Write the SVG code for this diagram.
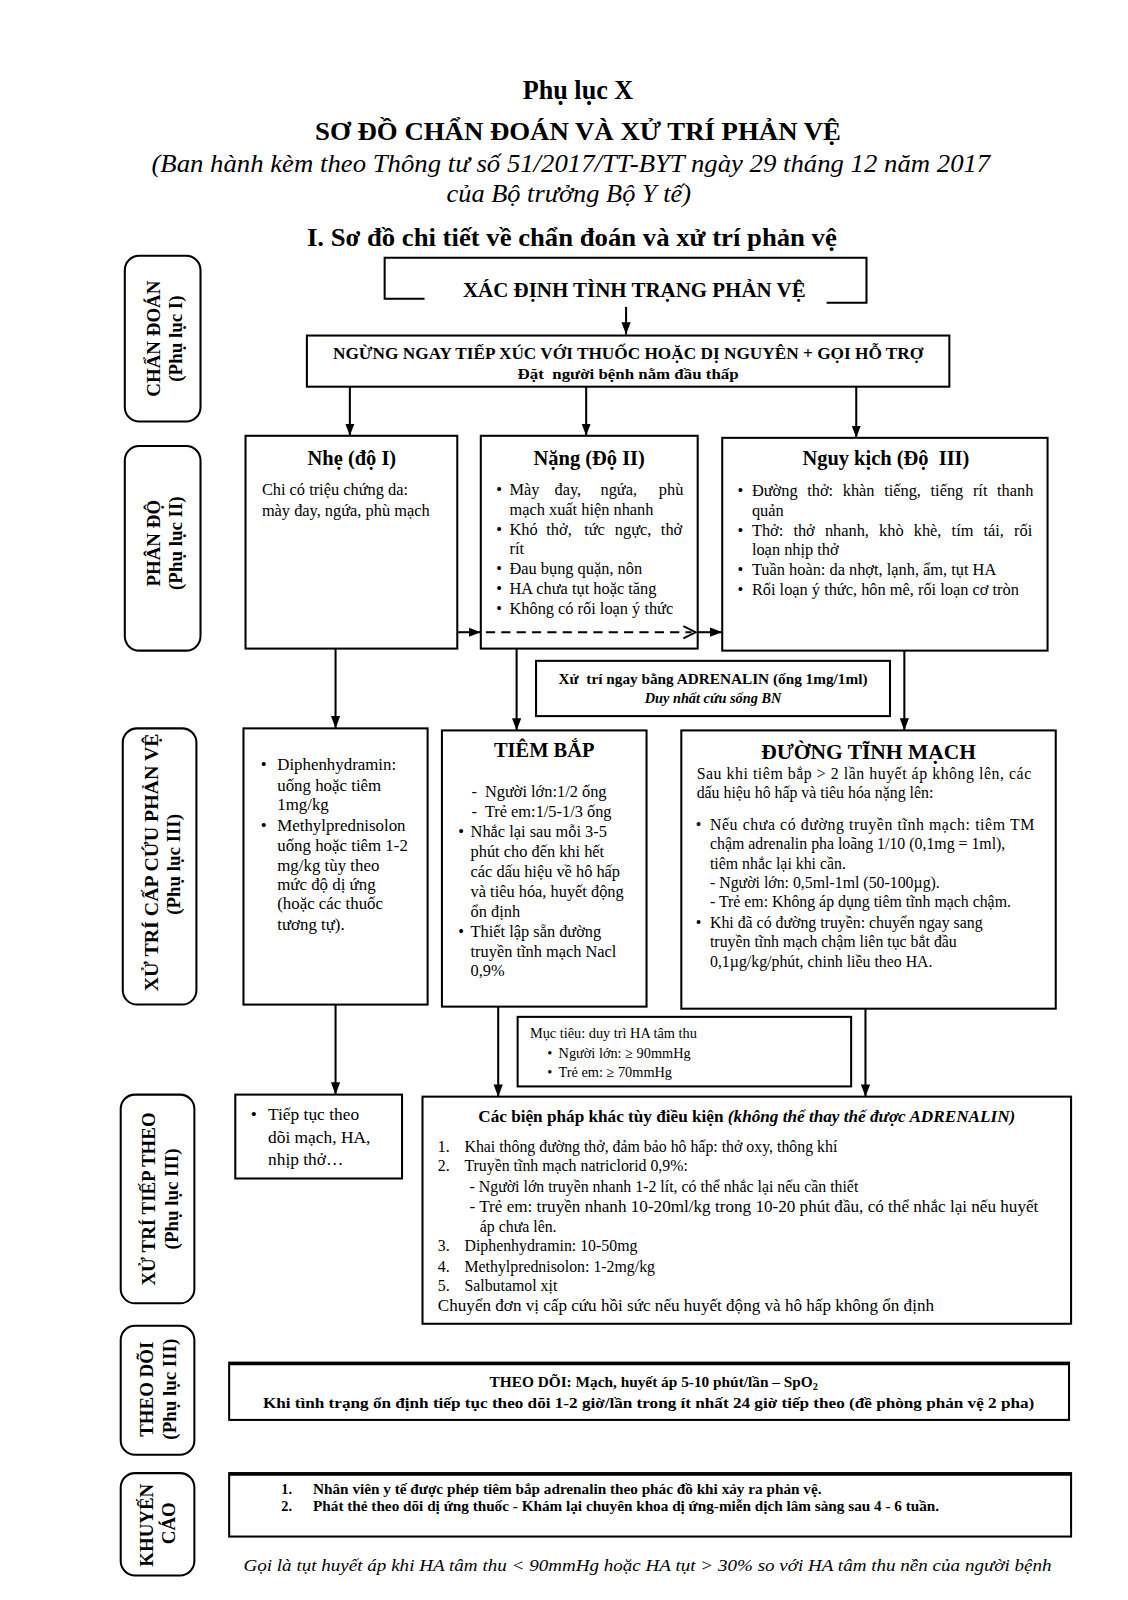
<svg xmlns="http://www.w3.org/2000/svg" width="1128" height="1600" viewBox="0 0 1128 1600">
<defs>
<style>
.t{font-family:"Liberation Serif","Times New Roman",serif;fill:#000}
.b{font-weight:bold}
.i{font-style:italic}
.c{text-anchor:middle}
.box{fill:none;stroke:#000;stroke-width:2}
.side{fill:none;stroke:#000;stroke-width:2}
.ln{fill:none;stroke:#000;stroke-width:2}
.sl{font-size:18.5px;font-weight:bold}
.f16{font-size:16px}
</style>
<marker id="arr" viewBox="0 0 12 10" refX="12" refY="5" markerWidth="12" markerHeight="10" markerUnits="userSpaceOnUse" orient="auto">
<path d="M0,0.5 L12,5 L0,9.5 z" fill="#000"/>
</marker>
</defs>
<rect width="1128" height="1600" fill="#fff"/>
<g transform="scale(1.023)">

<g id="title">
<text class="t b c" x="565" y="97" font-size="26" textLength="108" lengthAdjust="spacingAndGlyphs">Phụ lục X</text>
<text class="t b c" x="565" y="137" font-size="25" textLength="514" lengthAdjust="spacingAndGlyphs">SƠ ĐỒ CHẨN ĐOÁN VÀ XỬ TRÍ PHẢN VỆ</text>
<text class="t i c" x="558" y="168" font-size="25" textLength="820" lengthAdjust="spacingAndGlyphs">(Ban hành kèm theo Thông tư số 51/2017/TT-BYT ngày 29 tháng 12 năm 2017</text>
<text class="t i c" x="556" y="197" font-size="25" textLength="239" lengthAdjust="spacingAndGlyphs">của Bộ trưởng Bộ Y tế)</text>
<text class="t b c" x="559" y="240" font-size="24" textLength="518" lengthAdjust="spacingAndGlyphs">I. Sơ đồ chi tiết về chẩn đoán và xử trí phản vệ</text>
</g>

<g id="side-chandoan">
<rect class="side" x="122" y="250" width="74" height="162" rx="14"/>
<text class="t sl c" transform="translate(156,331) rotate(-90)">CHẨN ĐOÁN</text>
<text class="t sl c" transform="translate(178,331) rotate(-90)">(Phụ lục I)</text>
</g>
<g id="side-phando">
<rect class="side" x="122" y="436" width="74" height="200" rx="14"/>
<text class="t sl c" transform="translate(156,531) rotate(-90)">PHÂN ĐỘ</text>
<text class="t sl c" transform="translate(178,531) rotate(-90)">(Phụ lục II)</text>
</g>
<g id="side-capcuu">
<rect class="side" x="120" y="712" width="72" height="270" rx="14"/>
<text class="t sl c" transform="translate(154,843) rotate(-90)" textLength="252" lengthAdjust="spacingAndGlyphs">XỬ TRÍ CẤP CỨU PHẢN VỆ</text>
<text class="t sl c" transform="translate(176,845) rotate(-90)">(Phụ lục III)</text>
</g>
<g id="side-tieptheo">
<rect class="side" x="118" y="1070" width="72" height="204" rx="14"/>
<text class="t sl c" transform="translate(152,1172) rotate(-90)">XỬ TRÍ TIẾP THEO</text>
<text class="t sl c" transform="translate(174,1172) rotate(-90)">(Phụ lục III)</text>
</g>
<g id="side-theodoi">
<rect class="side" x="118" y="1296" width="72" height="126" rx="14"/>
<text class="t sl c" transform="translate(150,1358) rotate(-90)">THEO DÕI</text>
<text class="t sl c" transform="translate(172,1358) rotate(-90)">(Phụ lục III)</text>
</g>
<g id="side-khuyencao">
<rect class="side" x="118" y="1440" width="72" height="100" rx="14"/>
<text class="t sl c" transform="translate(150,1491) rotate(-90)">KHUYẾN</text>
<text class="t sl c" transform="translate(171,1489) rotate(-90)">CÁO</text>
</g>

<g id="connectors">
<line class="ln" x1="612" y1="300" x2="612" y2="327" marker-end="url(#arr)"/>
<line class="ln" x1="342" y1="378" x2="342" y2="426" marker-end="url(#arr)"/>
<line class="ln" x1="573" y1="378" x2="573" y2="426" marker-end="url(#arr)"/>
<line class="ln" x1="837" y1="378" x2="837" y2="428" marker-end="url(#arr)"/>
<line class="ln" x1="447" y1="618" x2="470" y2="618" marker-end="url(#arr)"/>
<line fill="none" stroke="#000" stroke-width="1.8" stroke-dasharray="9,6" x1="475" y1="618" x2="676" y2="618"/>
<path fill="none" stroke="#000" stroke-width="1.8" d="M668,612 L680,618 L668,624"/>
<line class="ln" x1="682" y1="618" x2="706" y2="618" marker-end="url(#arr)"/>
<line class="ln" x1="328" y1="634" x2="328" y2="712" marker-end="url(#arr)"/>
<line class="ln" x1="505" y1="634" x2="505" y2="714" marker-end="url(#arr)"/>
<line class="ln" x1="884" y1="636" x2="884" y2="714" marker-end="url(#arr)"/>
<line class="ln" x1="328" y1="982" x2="328" y2="1070" marker-end="url(#arr)"/>
<line class="ln" x1="487" y1="984" x2="487" y2="1072" marker-end="url(#arr)"/>
<line class="ln" x1="846" y1="986" x2="846" y2="1072" marker-end="url(#arr)"/>
</g>

<g id="xacdinh">
<path class="ln" d="M415,292 H376 V252 H847 V296 H808"/>
<text class="t b c" x="620" y="290" font-size="19.5" textLength="335" lengthAdjust="spacingAndGlyphs">XÁC ĐỊNH TÌNH TRẠNG PHẢN VỆ</text>
</g>

<g id="ngungngay">
<rect class="box" x="300" y="328" width="628" height="50"/>
<text class="t b c" x="614" y="351" font-size="16" textLength="577" lengthAdjust="spacingAndGlyphs">NGỪNG NGAY TIẾP XÚC VỚI THUỐC HOẶC DỊ NGUYÊN + GỌI HỖ TRỢ</text>
<text class="t b c" x="614" y="370" font-size="14" textLength="216" lengthAdjust="spacingAndGlyphs" xml:space="preserve">Đặt  người bệnh nằm đầu thấp</text>
</g>

<g id="nhe">
<rect class="box" x="240" y="426" width="207" height="208"/>
<text class="t b c" x="344" y="455" font-size="20">Nhẹ (độ I)</text>
<text class="t f16" x="256" y="484">Chi có triệu chứng da:</text>
<text class="t f16" x="256" y="504">mày đay, ngứa, phù mạch</text>
</g>

<g id="nang">
<rect class="box" x="470" y="426" width="212" height="208"/>
<text class="t b c" x="576" y="455" font-size="20">Nặng (Độ II)</text>
<g class="t f16">
<text x="485" y="484">•</text>
<text y="484"><tspan x="498">Mày</tspan><tspan x="542">đay,</tspan><tspan x="587">ngứa,</tspan><tspan x="644">phù</tspan></text>
<text x="498" y="503">mạch xuất hiện nhanh</text>
<text x="485" y="523">•</text>
<text y="523"><tspan x="498">Khó</tspan><tspan x="534">thở,</tspan><tspan x="571">tức</tspan><tspan x="601">ngực,</tspan><tspan x="646">thở</tspan></text>
<text x="498" y="542">rít</text>
<text x="485" y="561">•</text><text x="498" y="561">Đau bụng quặn, nôn</text>
<text x="485" y="581">•</text><text x="498" y="581">HA chưa tụt hoặc tăng</text>
<text x="485" y="600">•</text><text x="498" y="600">Không có rối loạn ý thức</text>
</g>
</g>

<g id="nguykich">
<rect class="box" x="706" y="428" width="318" height="208"/>
<text class="t b c" x="866" y="455" font-size="20" xml:space="preserve">Nguy kịch (Độ  III)</text>
<g class="t f16">
<text x="721" y="485">•</text><text x="735" y="485" word-spacing="5.4">Đường thở: khàn tiếng, tiếng rít thanh</text>
<text x="735" y="504">quản</text>
<text x="721" y="524">•</text><text x="735" y="524" word-spacing="5.9">Thở: thở nhanh, khò khè, tím tái, rối</text>
<text x="735" y="543">loạn nhịp thở</text>
<text x="721" y="562">•</text><text x="735" y="562">Tuần hoàn: da nhợt, lạnh, ẩm, tụt HA</text>
<text x="721" y="582">•</text><text x="735" y="582">Rối loạn ý thức, hôn mê, rối loạn cơ tròn</text>
</g>
</g>

<g id="adrenalin">
<rect class="box" x="524" y="646" width="346" height="54"/>
<text class="t b c" x="697" y="669" font-size="14" textLength="302" lengthAdjust="spacingAndGlyphs" xml:space="preserve">Xử  trí ngay bằng ADRENALIN (ống 1mg/1ml)</text>
<text class="t b i c" x="697" y="687" font-size="14">Duy nhất cứu sống BN</text>
</g>

<g id="diphenhydramin">
<rect class="box" x="238" y="712" width="180" height="270"/>
<g class="t" font-size="16.5">
<text x="255" y="753">•</text><text x="271" y="753">Diphenhydramin:</text>
<text x="271" y="773">uống hoặc tiêm</text>
<text x="271" y="792">1mg/kg</text>
<text x="255" y="812">•</text><text x="271" y="812">Methylprednisolon</text>
<text x="271" y="832">uống hoặc tiêm 1-2</text>
<text x="271" y="851">mg/kg tùy theo</text>
<text x="271" y="870">mức độ dị ứng</text>
<text x="271" y="889">(hoặc các thuốc</text>
<text x="271" y="909">tương tự).</text>
</g>
</g>

<g id="tiembap">
<rect class="box" x="432" y="714" width="200" height="270"/>
<text class="t b c" x="532" y="740" font-size="20">TIÊM BẮP</text>
<g class="t f16">
<text x="461" y="779">-</text><text x="474" y="779">Người lớn:1/2 ống</text>
<text x="461" y="799">-</text><text x="474" y="799">Trẻ em:1/5-1/3 ống</text>
<text x="448" y="818">•</text><text x="460" y="818">Nhắc lại sau mỗi 3-5</text>
<text x="460" y="838">phút cho đến khi hết</text>
<text x="460" y="857">các dấu hiệu về hô hấp</text>
<text x="460" y="877">và tiêu hóa, huyết động</text>
<text x="460" y="896">ổn định</text>
<text x="448" y="916">•</text><text x="460" y="916">Thiết lập sẵn đường</text>
<text x="460" y="935">truyền tĩnh mạch Nacl</text>
<text x="460" y="954">0,9%</text>
</g>
</g>

<g id="tinhmach">
<rect class="box" x="666" y="714" width="366" height="272"/>
<text class="t b c" x="849" y="742" font-size="21">ĐƯỜNG TĨNH MẠCH</text>
<g class="t" font-size="15.5">
<text x="681" y="761" textLength="327" lengthAdjust="spacing">Sau khi tiêm bắp &gt; 2 lần huyết áp không lên, các</text>
<text x="681" y="780">dấu hiệu hô hấp và tiêu hóa nặng lên:</text>
<text x="680" y="811">•</text><text x="694" y="811" textLength="317" lengthAdjust="spacing">Nếu chưa có đường truyền tĩnh mạch: tiêm TM</text>
<text x="694" y="830">chậm adrenalin pha loãng 1/10 (0,1mg = 1ml),</text>
<text x="694" y="849">tiêm nhắc lại khi cần.</text>
<text x="694" y="868">- Người lớn: 0,5ml-1ml (50-100µg).</text>
<text x="694" y="887">- Trẻ em: Không áp dụng tiêm tĩnh mạch chậm.</text>
<text x="680" y="907">•</text><text x="694" y="907">Khi đã có đường truyền: chuyển ngay sang</text>
<text x="694" y="926">truyền tĩnh mạch chậm liên tục bắt đầu</text>
<text x="694" y="945">0,1µg/kg/phút, chinh liều theo HA.</text>
</g>
</g>

<g id="muctieu">
<rect class="box" x="506" y="994" width="326" height="68"/>
<g class="t" font-size="14">
<text x="518" y="1015">Mục tiêu: duy trì HA tâm thu</text>
<text x="535" y="1034">•</text><text x="546" y="1034">Người lớn: ≥ 90mmHg</text>
<text x="535" y="1053">•</text><text x="546" y="1053">Trẻ em: ≥ 70mmHg</text>
</g>
</g>

<g id="tieptuc">
<rect class="box" x="230" y="1070" width="163" height="82"/>
<g class="t" font-size="17">
<text x="245" y="1095">•</text><text x="262" y="1095">Tiếp tục theo</text>
<text x="262" y="1117">dõi mạch, HA,</text>
<text x="262" y="1139">nhịp thở…</text>
</g>
</g>

<g id="bienphapkhac">
<rect class="box" x="413" y="1072" width="634" height="222"/>
<text class="t b c" x="730" y="1097" font-size="16" textLength="525" lengthAdjust="spacingAndGlyphs">Các biện pháp khác tùy điều kiện <tspan class="i">(không thể thay thế được ADRENALIN)</tspan></text>
<g class="t" font-size="15.5">
<text x="428" y="1126">1.</text><text x="454" y="1126">Khai thông đường thở, đảm bảo hô hấp: thở oxy, thông khí</text>
<text x="428" y="1145">2.</text><text x="454" y="1145">Truyền tĩnh mạch natriclorid 0,9%:</text>
<text x="459" y="1165">- Người lớn truyền nhanh 1-2 lít, có thể nhắc lại nếu cần thiết</text>
<text x="459" y="1185" textLength="556" lengthAdjust="spacingAndGlyphs">- Trẻ em: truyền nhanh 10-20ml/kg trong 10-20 phút đầu, có thể nhắc lại nếu huyết</text>
<text x="469" y="1204">áp chưa lên.</text>
<text x="428" y="1223">3.</text><text x="454" y="1223">Diphenhydramin: 10-50mg</text>
<text x="428" y="1243">4.</text><text x="454" y="1243">Methylprednisolon: 1-2mg/kg</text>
<text x="428" y="1262">5.</text><text x="454" y="1262">Salbutamol xịt</text>
<text x="428" y="1282" textLength="485" lengthAdjust="spacingAndGlyphs">Chuyển đơn vị cấp cứu hồi sức nếu huyết động và hô hấp không ổn định</text>
</g>
</g>

<g id="theodoi">
<rect class="box" x="224" y="1332" width="821" height="56"/>
<line x1="224" y1="1333" x2="1045" y2="1333" stroke="#000" stroke-width="3"/>
<text class="t b c" x="639" y="1356" font-size="15">THEO DÕI: Mạch, huyết áp 5-10 phút/lần – SpO<tspan font-size="10" dy="3">2</tspan></text>
<text class="t b c" x="634" y="1376" font-size="15" textLength="754" lengthAdjust="spacingAndGlyphs">Khi tình trạng ổn định tiếp tục theo dõi 1-2 giờ/lần trong ít nhất 24 giờ tiếp theo (đề phòng phản vệ 2 pha)</text>
</g>

<g id="khuyencao">
<rect class="box" x="224" y="1440" width="823" height="62"/>
<line x1="224" y1="1441" x2="1047" y2="1441" stroke="#000" stroke-width="3"/>
<g class="t b" font-size="14">
<text x="275" y="1460">1.</text><text x="306" y="1460" textLength="497" lengthAdjust="spacingAndGlyphs">Nhân viên y tế được phép tiêm bắp adrenalin theo phác đồ khi xảy ra phản vệ.</text>
<text x="275" y="1477">2.</text><text x="306" y="1477" textLength="612" lengthAdjust="spacingAndGlyphs">Phát thẻ theo dõi dị ứng thuốc - Khám lại chuyên khoa dị ứng-miễn dịch lâm sàng sau 4 - 6 tuần.</text>
</g>
</g>

<g id="footer">
<text class="t i" x="238" y="1536" font-size="17" textLength="790" lengthAdjust="spacingAndGlyphs">Gọi là tụt huyết áp khi HA tâm thu &lt; 90mmHg hoặc HA tụt &gt; 30% so với HA tâm thu nền của người bệnh</text>
</g>

</g>
</svg>
